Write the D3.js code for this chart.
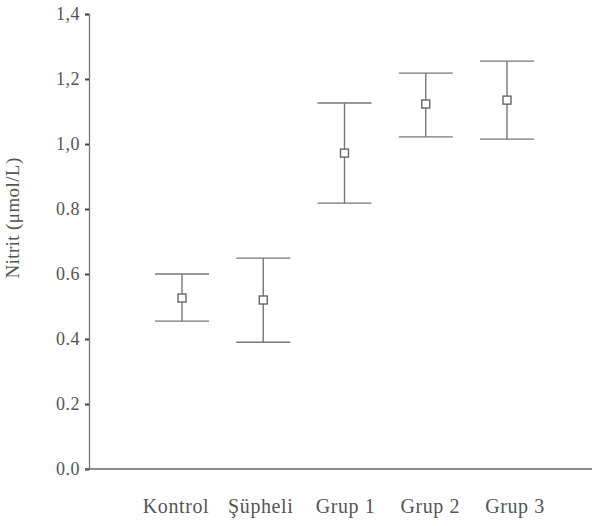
<!DOCTYPE html>
<html>
<head>
<meta charset="utf-8">
<script src="https://cdn.jsdelivr.net/npm/d3@7"></script>
<style>
  body { margin: 0; background: #fff; }
  text { font-family: "Liberation Serif", "DejaVu Serif", serif; fill: #555; }
</style>
</head>
<body>
<div id="chart"></div>
<script>
// values
var groups = ["Kontrol", "Şüpheli", "Grup 1", "Grup 2", "Grup 3"];
var means  = [0.526, 0.520, 0.972, 1.123, 1.135];
var upper  = [0.600, 0.649, 1.126, 1.218, 1.255];
var lower  = [0.455, 0.390, 0.818, 1.022, 1.015];
var yTicks = [0, 0.2, 0.4, 0.6, 0.8, 1.0, 1.2, 1.4];
var yTickLabels = ["0.0", "0.2", "0.4", "0.6", "0.8", "1,0", "1,2", "1,4"];

function init(){
    var w = 592;
    var h = 526;

    var svg = d3.select("#chart")
                .append("svg")
                .attr("width", w)
                .attr("height", h);

    var y = d3.scaleLinear()
              .domain([0, 1.4])
              .range([469, 14]);

    var x = d3.scalePoint()
              .domain(groups)
              .range([182, 507]);

    // labels sit a bit wider apart than the bars in the scan
    var xLab = d3.scalePoint()
                 .domain(groups)
                 .range([176, 515]);

    var data = groups.map(function(g, i){
        return {g: g, m: means[i], hi: upper[i], lo: lower[i]};
    });

    // y axis
    var yAxis = d3.axisLeft(y)
                  .tickValues(yTicks)
                  .tickSize(4)
                  .tickPadding(5)
                  .tickFormat(function(d, i){ return yTickLabels[i]; });

    var gy = svg.append("g")
                .attr("transform", "translate(89,0)")
                .call(yAxis);
    gy.select(".domain").attr("stroke", "#777").attr("stroke-width", 1.3);
    gy.selectAll(".tick line").attr("stroke", "#444").attr("stroke-width", 2);
    gy.selectAll(".tick text")
      .style("font-size", "18px")
      .style("font-family", "Liberation Serif")
      .style("letter-spacing", "0.5px")
      .attr("fill", "#666");

    // x axis line
    svg.append("line")
       .attr("x1", 85).attr("x2", w)
       .attr("y1", y(0)).attr("y2", y(0))
       .attr("stroke", "#666")
       .attr("stroke-width", 1.5);

    // category labels
    svg.selectAll(".xlab")
       .data(groups)
       .enter()
       .append("text")
       .attr("class", "xlab")
       .attr("x", function(d){ return xLab(d); })
       .attr("y", 513)
       .attr("text-anchor", "middle")
       .style("font-size", "20px")
       .style("letter-spacing", "0.6px")
       .text(function(d){ return d; });

    // y title
    svg.append("text")
       .attr("transform", "translate(19,218) rotate(-90)")
       .attr("text-anchor", "middle")
       .style("font-size", "19px")
       .style("letter-spacing", "0.4px")
       .text("Nitrit (μmol/L)");

    var cap = 27;
    var bars = svg.selectAll(".bar")
                  .data(data)
                  .enter()
                  .append("g")
                  .attr("class", "bar")
                  .attr("stroke", "#777")
                  .attr("stroke-width", 1.4)
                  .attr("fill", "none");

    bars.append("line")
        .attr("x1", function(d){ return x(d.g); })
        .attr("x2", function(d){ return x(d.g); })
        .attr("y1", function(d){ return y(d.hi); })
        .attr("y2", function(d){ return y(d.lo); });

    bars.append("line")
        .attr("x1", function(d){ return x(d.g) - cap; })
        .attr("x2", function(d){ return x(d.g) + cap; })
        .attr("y1", function(d){ return y(d.hi); })
        .attr("y2", function(d){ return y(d.hi); });

    bars.append("line")
        .attr("x1", function(d){ return x(d.g) - cap; })
        .attr("x2", function(d){ return x(d.g) + cap; })
        .attr("y1", function(d){ return y(d.lo); })
        .attr("y2", function(d){ return y(d.lo); });

    bars.append("rect")
        .attr("x", function(d){ return x(d.g) - 4; })
        .attr("y", function(d){ return y(d.m) - 4; })
        .attr("width", 8)
        .attr("height", 8)
        .attr("fill", "#fff")
        .attr("stroke", "#666");
}
window.onload = init;
</script>
</body>
</html>
